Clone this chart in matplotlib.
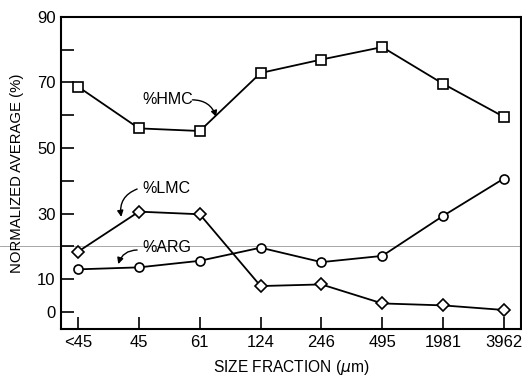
import matplotlib
matplotlib.use("Agg")
import matplotlib.pyplot as plt

plt.rcParams['font.family'] = ['Liberation Sans', 'DejaVu Sans']

sizes = ["<45", "45", "61", "124", "246", "495", "1981", "3962"]
hmc = [68.7, 56.0, 55.2, 72.9, 77.0, 80.8, 69.6, 59.5]
lmc = [18.4, 30.6, 29.8, 7.9, 8.4, 2.6, 2.0, 0.6]
arg = [13.0, 13.6, 15.6, 19.6, 15.2, 17.1, 29.3, 40.7]

x = list(range(len(sizes)))

fig = plt.figure(figsize=(5.22, 3.76), dpi=100)
ax = fig.add_axes([0.117, 0.125, 0.881, 0.83])

mk = dict(color='black', lw=1.3, markerfacecolor='white', markeredgecolor='black',
          markeredgewidth=1.2, markersize=6.5)
ax.plot(x, hmc, marker='s', **mk)
ax.plot(x, lmc, marker='D', **dict(mk, markersize=6))
ax.plot(x, arg, marker='o', **mk)

# faint scan line across the page
ax.axhline(20, xmin=-0.133, xmax=1.01, clip_on=False, color='0.6', lw=0.6, zorder=0)

# series labels with curved arrows
arrow = dict(arrowstyle='-|>', color='black', lw=1.0, mutation_scale=9, shrinkA=0, shrinkB=0)
ax.text(1.05, 64.7, "%HMC", ha='left', va='center', fontsize=11.5)
ax.annotate("", xy=(2.27, 59.5), xytext=(1.88, 64.7),
            arrowprops=dict(arrow, connectionstyle='arc3,rad=-0.35'))
ax.text(1.05, 37.8, "%LMC", ha='left', va='center', fontsize=11.5)
ax.annotate("", xy=(0.71, 29.0), xytext=(0.97, 37.5),
            arrowprops=dict(arrow, connectionstyle='arc3,rad=0.4'))
ax.text(1.05, 19.8, "%ARG", ha='left', va='center', fontsize=11.5)
ax.annotate("", xy=(0.66, 14.6), xytext=(0.97, 18.9),
            arrowprops=dict(arrow, connectionstyle='arc3,rad=0.35'))

ax.set_xlim(-0.28, 7.28)
ax.set_ylim(-5.2, 90)
ax.set_xticks(x)
ax.set_xticklabels(sizes, fontsize=12)
ax.set_yticks(range(0, 91, 10))
ax.set_yticklabels(["0", "10", "", "30", "", "50", "", "70", "", "90"], fontsize=12)
ax.tick_params(direction='in', length=9, width=1.2, pad=4)
for s in ax.spines.values():
    s.set_linewidth(1.5)

ax.set_xlabel("SIZE FRACTION ($\\mu$m)", fontsize=11.2, labelpad=6)
ax.set_ylabel("NORMALIZED AVERAGE (%)", fontsize=10.7, labelpad=9)

fig.savefig("out.png", dpi=100)
